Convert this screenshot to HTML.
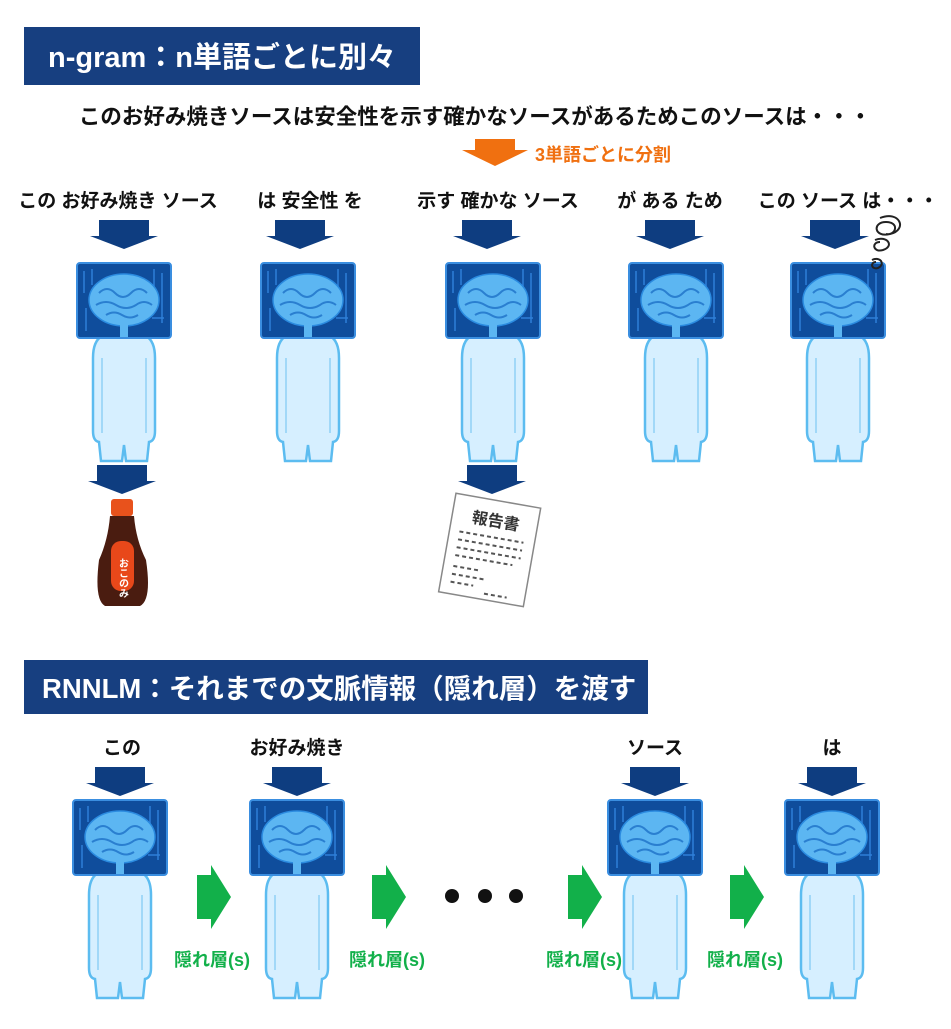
<!DOCTYPE html>
<html><head><meta charset="utf-8"><style>
body{margin:0;width:951px;height:1024px;background:#fff;overflow:hidden}
text{font-family:"Liberation Sans","Noto Sans CJK JP",sans-serif;font-weight:bold}
</style></head><body>
<svg width="951" height="1024" viewBox="0 0 951 1024" xmlns="http://www.w3.org/2000/svg">
<defs>
<g id="robot">
<path d="M-22,73 Q-31,78 -31,95 L-31,168 Q-31,178 -25,179 L-23,198 L-2,198 L0,182 L2,198 L23,198 L25,179 Q31,178 31,168 L31,95 Q31,78 22,73 Z" fill="#d6efff" stroke="#5cbcf0" stroke-width="2.5"/>
<path d="M-22,95 V170 M22,95 V170" stroke="#8fd0f5" stroke-width="1.5"/>
<rect x="-47" y="0" width="94" height="75" rx="3" fill="#0f4d9c" stroke="#3a8ee0" stroke-width="2"/>
<path d="M-40,8 V30 M-32,6 V22 M30,6 V25 M38,10 V60 M-38,45 V68 M28,55 H40" stroke="#2f7fd8" stroke-width="1.5" fill="none"/>
<ellipse cx="0" cy="37" rx="35" ry="26" fill="#5cb6f2" stroke="#2b8be0" stroke-width="1.5"/>
<path d="M-25,30 q8,-8 16,0 q8,8 16,0 q8,-8 16,0 M-28,42 q10,-6 20,0 q10,6 20,0 q8,-6 16,0 M-18,52 q8,-5 16,0 q8,5 16,0" stroke="#2a7fd0" stroke-width="2" fill="none"/>
<rect x="-4" y="62" width="8" height="12" fill="#5cb6f2"/>
</g>
<g id="barr"><rect x="-25" y="0" width="50" height="17" fill="#0e3d80"/><polygon points="-34,16 34,16 0,29" fill="#0e3d80"/></g>
<g id="garr"><rect x="0" y="10" width="16" height="44" fill="#12b04a"/><polygon points="14,0 34,32 14,64" fill="#12b04a"/></g>
</defs>

<rect x="24" y="27" width="396" height="58" fill="#173f80"/>
<text x="48" y="67" font-size="29" fill="#fff">n-gram：n単語ごとに別々</text>
<text x="475" y="124" font-size="21.5" fill="#111" text-anchor="middle">このお好み焼きソースは安全性を示す確かなソースがあるためこのソースは・・・</text>
<rect x="475" y="139" width="40" height="12" fill="#f07010"/><polygon points="462,150 528,150 495,166" fill="#f07010"/>
<text x="535" y="161" font-size="18" fill="#f07010">3単語ごとに分割</text>

<g font-size="19" fill="#111" text-anchor="middle">
<text x="118" y="207">この お好み焼き ソース</text>
<text x="310" y="207">は 安全性 を</text>
<text x="498" y="207">示す 確かな ソース</text>
<text x="670" y="207">が ある ため</text>
<text x="848" y="207">この ソース は・・・</text>
</g>
<use href="#barr" x="124" y="220"/><use href="#barr" x="300" y="220"/><use href="#barr" x="487" y="220"/><use href="#barr" x="670" y="220"/><use href="#barr" x="835" y="220"/>
<use href="#robot" x="124" y="263"/><use href="#robot" x="308" y="263"/><use href="#robot" x="493" y="263"/><use href="#robot" x="676" y="263"/><use href="#robot" x="838" y="263"/>
<g fill="none" stroke="#222" stroke-width="2"><path d="M880,218 c20,-8 28,12 10,16 c-16,4 -18,-12 -4,-12 c14,0 10,14 0,12 M875,240 c12,-5 20,6 8,10 c-10,3 -12,-8 -3,-8 M872,260 c8,-4 14,4 6,8 c-7,2 -8,-6 -2,-6"/></g>

<use href="#barr" x="122" y="465"/><use href="#barr" x="492" y="465"/>
<rect x="111" y="499" width="22" height="17" rx="3" fill="#e8521c"/>
<path d="M110,516 H134 Q136,540 146,560 Q152,600 140,606 H105 Q94,600 99,560 Q108,540 110,516Z" fill="#4a1c10"/>
<rect x="111" y="541" width="23" height="50" rx="10" fill="#e8481a"/>
<text x="122" y="578" font-size="10" fill="#fff" text-anchor="middle" writing-mode="tb">おこのみ</text>
<g transform="rotate(10 490 548)">
<rect x="447" y="500" width="86" height="100" fill="#fff" stroke="#888" stroke-width="1.5"/>
<text x="467" y="526" font-size="16" fill="#333">報告書</text>
<g stroke="#555" stroke-width="2" stroke-dasharray="4 3"><path d="M457,537 H522 M457,545 H522 M457,553 H522 M457,561 H515 M457,572 H485 M457,580 H490 M457,588 H480 M492,594 H515"/></g>
</g>

<rect x="24" y="660" width="624" height="54" fill="#173f80"/>
<text x="42" y="698" font-size="27.5" fill="#fff">RNNLM：それまでの文脈情報（隠れ層）を渡す</text>
<g font-size="19" fill="#111" text-anchor="middle">
<text x="122" y="754">この</text><text x="297" y="754">お好み焼き</text><text x="655" y="754">ソース</text><text x="832" y="754">は</text>
</g>
<use href="#barr" x="120" y="767"/><use href="#barr" x="297" y="767"/><use href="#barr" x="655" y="767"/><use href="#barr" x="832" y="767"/>
<use href="#robot" x="120" y="800"/><use href="#robot" x="297" y="800"/><use href="#robot" x="655" y="800"/><use href="#robot" x="832" y="800"/>
<use href="#garr" x="197" y="865"/><use href="#garr" x="372" y="865"/><use href="#garr" x="568" y="865"/><use href="#garr" x="730" y="865"/>
<circle cx="452" cy="896" r="7" fill="#111"/><circle cx="485" cy="896" r="7" fill="#111"/><circle cx="516" cy="896" r="7" fill="#111"/>
<g font-size="18" fill="#12b04a" text-anchor="middle">
<text x="212" y="966">隠れ層(s)</text><text x="387" y="966">隠れ層(s)</text><text x="584" y="966">隠れ層(s)</text><text x="745" y="966">隠れ層(s)</text>
</g>
</svg>
</body></html>
